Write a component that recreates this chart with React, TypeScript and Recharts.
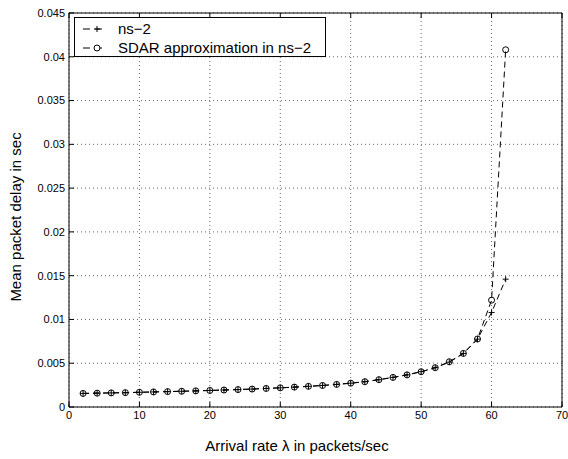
import React from 'react';
import { LineChart, Line, XAxis, YAxis, CartesianGrid, Legend } from 'recharts';

const arrivalRates = [2, 4, 6, 8, 10, 12, 14, 16, 18, 20, 22, 24, 26, 28, 30, 32, 34, 36, 38, 40, 42, 44, 46, 48, 50, 52, 54, 56, 58, 60, 62];
const ns2Delay = [0.00155, 0.00158, 0.00161, 0.00164, 0.00168, 0.00172, 0.00176, 0.0018, 0.00184, 0.00189, 0.00194, 0.00199, 0.00205, 0.00212, 0.00219, 0.00227, 0.00236, 0.00246, 0.00258, 0.00272, 0.00289, 0.00312, 0.00338, 0.00367, 0.00403, 0.00449, 0.00512, 0.00612, 0.00775, 0.0108, 0.0146];
const sdarDelay = [0.00155, 0.00158, 0.00161, 0.00164, 0.00168, 0.00172, 0.00176, 0.0018, 0.00184, 0.00189, 0.00194, 0.00199, 0.00205, 0.00212, 0.00219, 0.00227, 0.00236, 0.00246, 0.00258, 0.00272, 0.00289, 0.00312, 0.00338, 0.00367, 0.00403, 0.00449, 0.00517, 0.00612, 0.00777, 0.0122, 0.0408];
const xTicks = [0, 10, 20, 30, 40, 50, 60, 70];
const yTicks = [0, 0.005, 0.01, 0.015, 0.02, 0.025, 0.03, 0.035, 0.04, 0.045];
const seriesNames = ['ns\u22122', 'SDAR approximation in ns\u22122'];

const data = arrivalRates.map((x, i) => ({ x, ns2: ns2Delay[i], sdar: sdarDelay[i] }));

const FONT = 'Liberation Sans, Arial, Helvetica, sans-serif';

const PlusDot = (props: any) => {
  const { cx, cy, index } = props;
  if (cx == null || cy == null) return <g key={`p${index}`} />;
  return (
    <path key={`p${index}`} d={`M${cx - 3},${cy}H${cx + 3}M${cx},${cy - 3}V${cy + 3}`} stroke="#000" strokeWidth={1} fill="none" />
  );
};

const CircleDot = (props: any) => {
  const { cx, cy, index } = props;
  if (cx == null || cy == null) return <g key={`c${index}`} />;
  return <circle key={`c${index}`} cx={cx} cy={cy} r={3} stroke="#000" strokeWidth={1} fill="none" />;
};

const Empty = () => <g />;

const LegendBox = () => (
  <div
    style={{
      position: 'relative',
      width: 252,
      height: 40,
      border: '1px solid #000',
      background: '#fff',
      boxSizing: 'border-box',
      fontFamily: FONT,
      fontSize: 15,
      color: '#000',
    }}
  >
    {seriesNames.map((name, i) => (
      <div key={name} style={{ position: 'absolute', left: 0, top: i === 0 ? 2 : 21, height: 18, width: 250 }}>
        <svg width={40} height={18} style={{ position: 'absolute', left: 0, top: 0 }}>
          <line x1={8} y1={9} x2={28} y2={9} stroke="#000" strokeWidth={1} strokeDasharray="7 5" />
          {i === 0 ? (
            <path d="M19,9H25M22,6V12" stroke="#000" strokeWidth={1} fill="none" />
          ) : (
            <circle cx={22} cy={9} r={3} stroke="#000" fill="#fff" strokeWidth={1} />
          )}
        </svg>
        <span style={{ position: 'absolute', left: 43, top: 0, lineHeight: '18px', whiteSpace: 'nowrap' }}>{name}</span>
      </div>
    ))}
  </div>
);

const XLabel = (props: any) => {
  const vb = props.viewBox;
  return (
    <text x={vb.x + vb.width / 2 - 18.5} y={vb.y + 43.5} textAnchor="middle" fontFamily={FONT} fontSize={15} fill="#000">
      Arrival rate λ in packets/sec
    </text>
  );
};

const YLabel = (props: any) => {
  const vb = props.viewBox;
  const x = vb.x + vb.width - 48.3;
  const y = vb.y + vb.height / 2 + 7;
  return (
    <text x={x} y={y} transform={`rotate(-90, ${x}, ${y})`} textAnchor="middle" fontFamily={FONT} fontSize={15} fill="#000">
      Mean packet delay in sec
    </text>
  );
};

const fmtY = (v: number) => String(Number(v.toFixed(3)));

export default function App() {
  return (
    <div style={{ position: 'absolute', left: 0, top: 0, width: 568, height: 459, background: '#fff' }}>
      <LineChart width={568} height={459} data={data} margin={{ top: 0, right: 0, left: 0, bottom: 0 }}>
        <CartesianGrid stroke="#000" strokeDasharray="1 3" strokeWidth={1} strokeOpacity={0.6} />
        <XAxis
          dataKey="x"
          type="number"
          domain={[0, 70]}
          ticks={xTicks}
          height={52}
          tickSize={-5}
          tickMargin={9}
          axisLine={{ stroke: '#000', strokeWidth: 1 }}
          tickLine={{ stroke: '#000' }}
          tick={{ fill: '#000', fontSize: 11, fontFamily: FONT }}
          interval={0}
          label={<XLabel />}
        />
        <XAxis
          xAxisId="top"
          orientation="top"
          dataKey="x"
          type="number"
          domain={[0, 70]}
          ticks={xTicks}
          height={13}
          tickSize={-5}
          axisLine={{ stroke: '#000', strokeWidth: 1 }}
          tickLine={{ stroke: '#000' }}
          tick={Empty}
          interval={0}
        />
        <YAxis
          type="number"
          domain={[0, 0.045]}
          ticks={yTicks}
          width={69}
          tickSize={-5}
          tickMargin={9}
          axisLine={{ stroke: '#000', strokeWidth: 1 }}
          tickLine={{ stroke: '#000' }}
          tick={{ fill: '#000', fontSize: 11, fontFamily: FONT }}
          tickFormatter={fmtY}
          interval={0}
          label={<YLabel />}
        />
        <YAxis
          yAxisId="right"
          orientation="right"
          type="number"
          domain={[0, 0.045]}
          ticks={yTicks}
          width={6}
          tickSize={-5}
          axisLine={{ stroke: '#000', strokeWidth: 1 }}
          tickLine={{ stroke: '#000' }}
          tick={Empty}
          interval={0}
        />
        <Line
          dataKey="ns2"
          name={seriesNames[0]}
          stroke="#000"
          strokeWidth={1}
          strokeDasharray="6 4"
          dot={PlusDot}
          activeDot={false}
          isAnimationActive={false}
        />
        <Line
          dataKey="sdar"
          name={seriesNames[1]}
          stroke="#000"
          strokeWidth={1}
          strokeDasharray="6 4"
          dot={CircleDot}
          activeDot={false}
          isAnimationActive={false}
        />
        <Legend
          layout="horizontal"
          verticalAlign="middle"
          align="center"
          content={<LegendBox />}
          wrapperStyle={{ left: 74, top: 17, width: 252, height: 40, margin: 0, padding: 0 }}
        />
      </LineChart>
    </div>
  );
}
